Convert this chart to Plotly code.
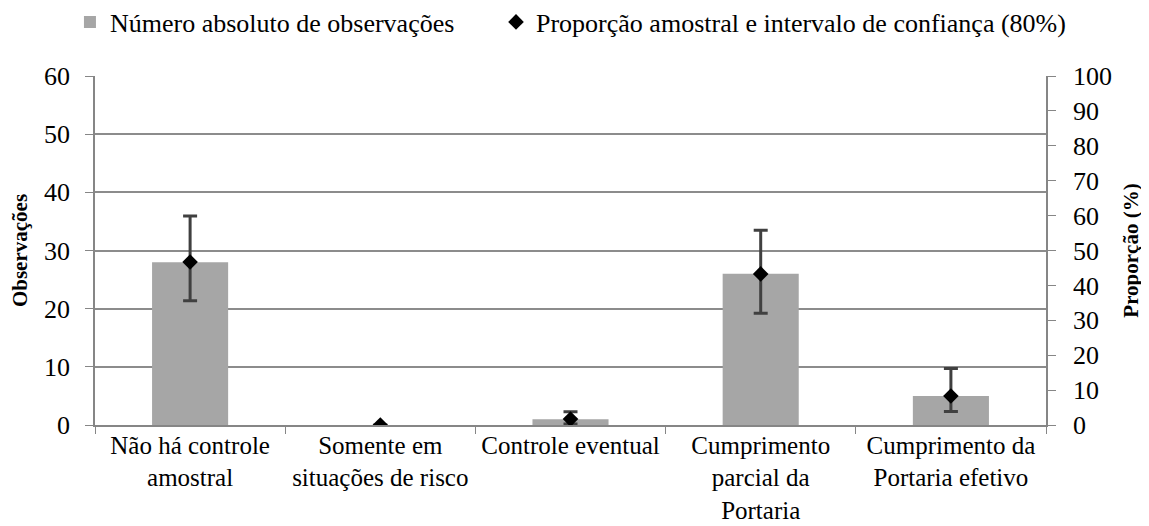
import plotly.graph_objects as go

categories = ["Não há controle<br>amostral", "Somente em<br>situações de risco", "Controle eventual",
              "Cumprimento<br>parcial da<br>Portaria", "Cumprimento da<br>Portaria efetivo"]
observations = [28, 0, 1, 26, 5]
proportion = [46.7, 0.0, 1.7, 43.3, 8.3]
ci_upper = [59.9, 0.0, 3.8, 55.8, 16.2]
ci_lower = [35.6, 0.0, 0.3, 32.0, 3.9]

err_plus = [u - p for u, p in zip(ci_upper, proportion)]
err_minus = [p - l for p, l in zip(proportion, ci_lower)]

FONT = "Liberation Serif"
TICK = dict(family=FONT, size=26, color="black")
XTICK = dict(family=FONT, size=25, color="black")
TITLE = dict(family=FONT, size=21, color="black")
LEG = dict(family=FONT, size=26, color="black")
AX = "#868686"

fig = go.Figure()
fig.add_trace(go.Bar(
    x=categories, y=observations, name="Número absoluto de observações",
    marker=dict(color="#a6a6a6", line=dict(width=0)), width=0.4, legend="legend",
))
fig.add_trace(go.Scatter(
    x=categories, y=proportion, yaxis="y2", mode="markers",
    name="Proporção amostral e intervalo de confiança (80%)", legend="legend2",
    marker=dict(symbol="diamond", size=12, color="black"),
    error_y=dict(type="data", symmetric=False, array=err_plus, arrayminus=err_minus,
                 color="#404040", thickness=3, width=7),
))

leg_common = dict(orientation="h", xanchor="left", xref="container", y=0.973, yanchor="middle",
                  yref="container", font=LEG, itemwidth=30, bgcolor="rgba(0,0,0,0)")
fig.update_layout(
    width=1141, height=518,
    margin=dict(l=87, r=103, t=68, b=101),
    paper_bgcolor="white", plot_bgcolor="white",
    font=dict(family=FONT, size=21, color="black"),
    showlegend=True,
    legend=dict(x=0.0543, **leg_common),
    legend2=dict(x=0.4277, **leg_common),
    xaxis=dict(type="category", tickson="boundaries", ticks="outside", ticklen=7,
               tickcolor=AX, showline=True, linecolor=AX, linewidth=1.5, ticklabelstandoff=-3,
               showgrid=False, tickfont=XTICK, automargin=False),
    yaxis=dict(range=[0, 60], dtick=10, ticks="outside", ticklen=8, tickcolor=AX,
               showline=True, linecolor=AX, linewidth=1.5, ticklabelstandoff=10,
               gridcolor="#8c8c8c", gridwidth=1.5, zeroline=False, automargin=False,
               title=dict(text="<b>Observações</b>", font=TITLE, standoff=14),
               tickfont=TICK),
    yaxis2=dict(range=[0, 100], dtick=10, overlaying="y", side="right", ticks="outside",
                ticklen=8, tickcolor=AX, showline=True, linecolor=AX, linewidth=1.5,
                showgrid=False, zeroline=False, automargin=False, ticklabelstandoff=12,
                title=dict(text="<b>Proporção (%)</b>", font=TITLE, standoff=12),
                tickfont=TICK),
)
fig.write_html("out.html")
